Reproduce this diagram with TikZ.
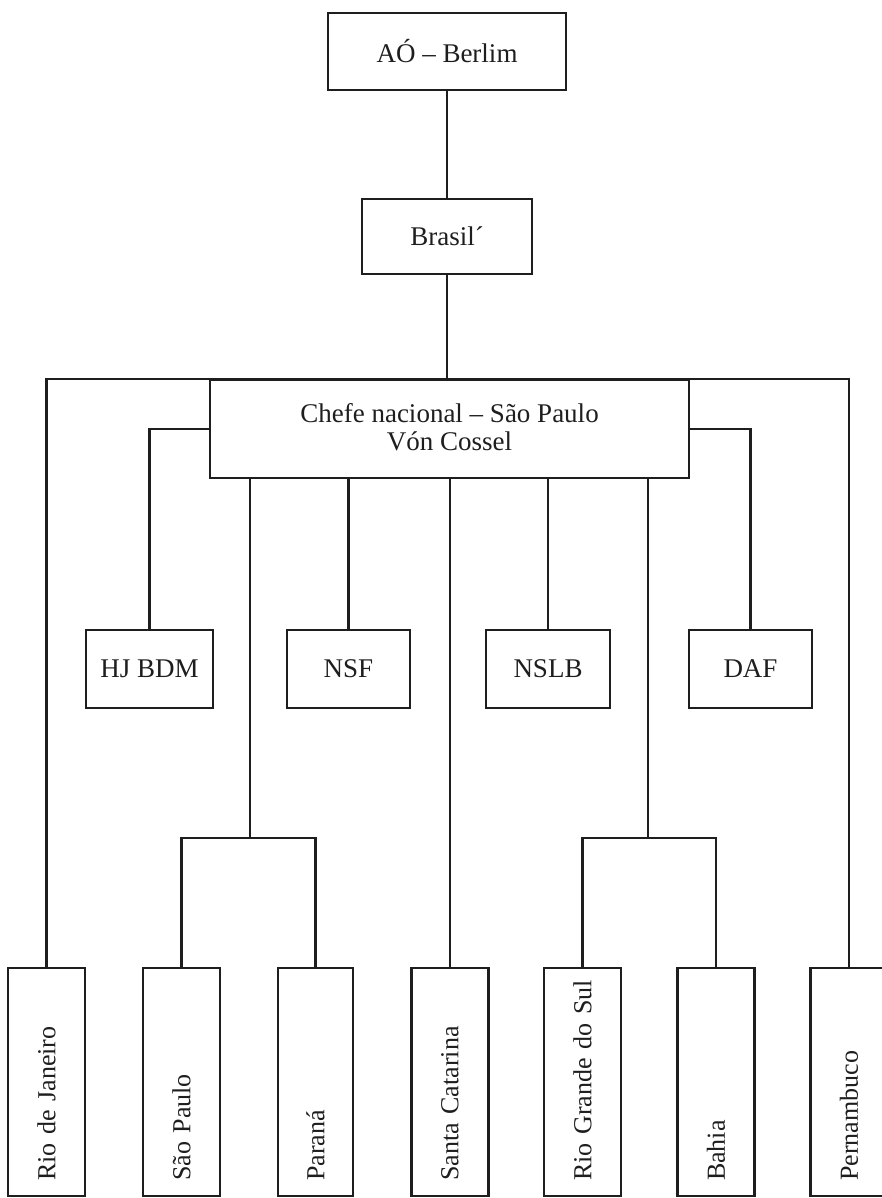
\documentclass[tikz,border=0pt]{standalone}
\usepackage{fontspec}
\setmainfont{Liberation Serif}
\usepackage{xcolor}
\usepackage{tikz}
\usetikzlibrary{calc}
\definecolor{orgInk}{HTML}{1E1E1E}
\definecolor{orgPaper}{HTML}{FFFFFF}

\begin{document}
\begin{tikzpicture}[x=1pt,y={(0pt,-1pt)},font=\fontsize{27}{28}\selectfont,line width=2.2pt,draw=orgInk]
  \tikzset{orgbox/.style={draw=orgInk,line width=2.2pt,fill=orgPaper,inner sep=0pt,align=center,text=orgInk},
    statebox/.style={draw=orgInk,line width=2.2pt,fill=orgPaper,rotate=90,anchor=west,minimum width=228pt,minimum height=77pt,
      text width=198pt,inner xsep=15pt,inner ysep=0pt,align=left,text=orgInk,font=\fontsize{26}{28}\selectfont}}
  \useasboundingbox[fill=orgPaper] (0,0) rectangle (882,1198);
  % top of the chart
  \node[orgbox,minimum width=238pt,minimum height=77pt] (ao) at (447,51.5) {AÓ -- Berlim};
  \node[orgbox,minimum width=170pt,minimum height=75pt] (brasil) at (447,236.5) {Brasil´};
  \node[orgbox,minimum width=479pt,minimum height=98pt,text depth=4pt] (chefe) at (449.5,429) {Chefe nacional -- São Paulo\\Vón Cossel};
  % organisations
  \node[orgbox,minimum width=127pt,minimum height=78pt] (hj) at (149.5,669) {HJ BDM};
  \node[orgbox,minimum width=123pt,minimum height=78pt] (nsf) at (348.5,669) {NSF};
  \node[orgbox,minimum width=124pt,minimum height=78pt] (nslb) at (548,669) {NSLB};
  \node[orgbox,minimum width=123pt,minimum height=78pt] (daf) at (750.5,669) {DAF};
  % states
  \node[statebox] (rio) at (46.5,1197) {Rio de Janeiro};
  \node[statebox] (sp) at (181.5,1197) {São Paulo};
  \node[statebox,minimum height=75pt] (parana) at (315.5,1197) {Paraná};
  \node[statebox] (santa) at (450,1197) {Santa Catarina};
  \node[statebox] (rgs) at (582.5,1197) {\mbox{Rio Grande do Sul}};
  \node[statebox] (bahia) at (716,1197) {Bahia};
  \node[statebox] (pern) at (849,1197) {Pernambuco};
  \coordinate (lsplit) at (250,838);
  \coordinate (rsplit) at (648,838);
  % connectors
  \draw (ao.south) -- (ao.south |- brasil.north);
  \draw (brasil.south) -- (brasil.south |- chefe.north);
  \draw (rio.east) |- (chefe.north) -| (pern.east);
  \draw (chefe.west) -| (hj.north);
  \draw (chefe.east) -| (daf.north);
  \draw (chefe.south -| nsf.north) -- (nsf.north);
  \draw (chefe.south -| nslb.north) -- (nslb.north);
  \draw (chefe.south -| santa.east) -- (santa.east);
  \draw (chefe.south -| lsplit) -- (lsplit);
  \draw (sp.east) |- (lsplit) -| (parana.east);
  \draw (chefe.south -| rsplit) -- (rsplit);
  \draw (rgs.east) |- (rsplit) -| (bahia.east);
\end{tikzpicture}
\end{document}
